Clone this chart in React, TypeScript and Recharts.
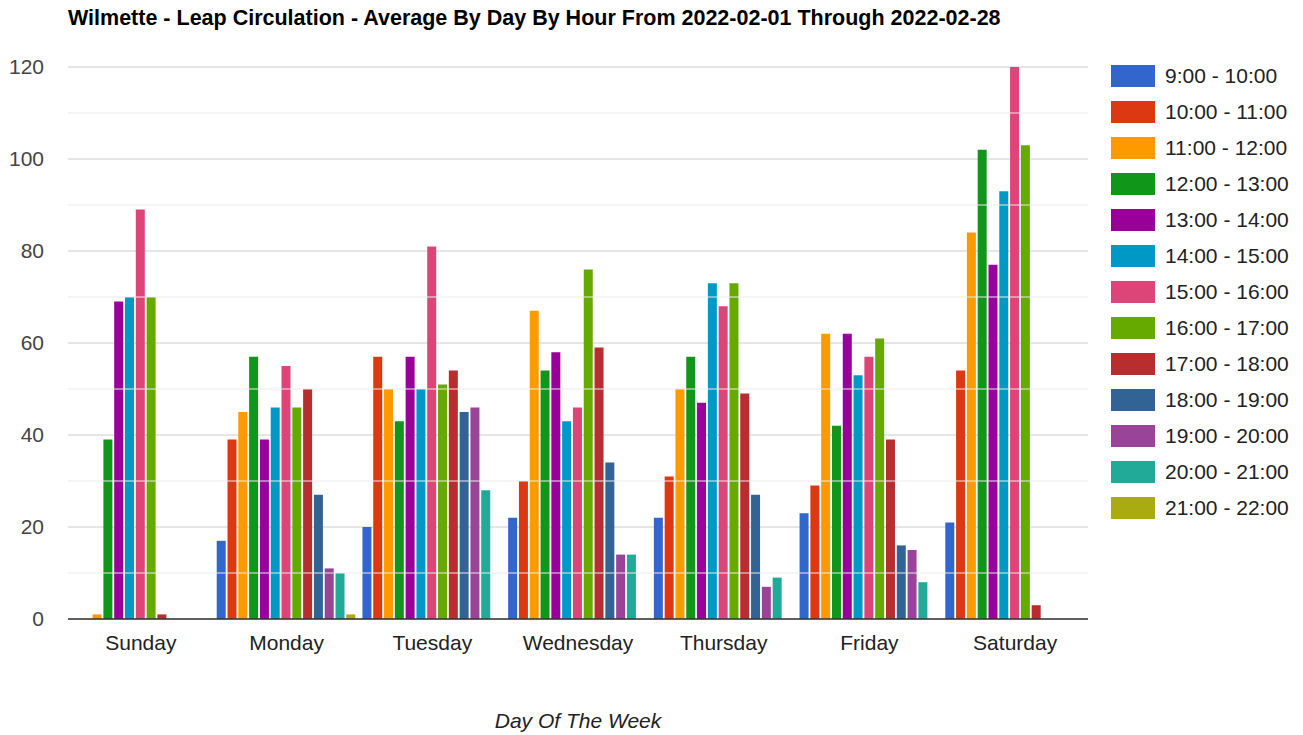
import React from 'react';
import { BarChart, Bar, XAxis, YAxis, CartesianGrid, ReferenceLine, Label } from 'recharts';

const days = ['Sunday', 'Monday', 'Tuesday', 'Wednesday', 'Thursday', 'Friday', 'Saturday'];

const hourRanges = [
  '9:00 - 10:00', '10:00 - 11:00', '11:00 - 12:00', '12:00 - 13:00', '13:00 - 14:00',
  '14:00 - 15:00', '15:00 - 16:00', '16:00 - 17:00', '17:00 - 18:00', '18:00 - 19:00',
  '19:00 - 20:00', '20:00 - 21:00', '21:00 - 22:00',
];

const hourColors = [
  '#3366cc', '#dc3912', '#ff9900', '#109618', '#990099', '#0099c6', '#dd4477',
  '#66aa00', '#b82e2e', '#316395', '#994499', '#22aa99', '#aaaa11',
];

// averages per hour slot, 9:00 through 21:00
const sunday = [0, 0, 1, 39, 69, 70, 89, 70, 1, 0, 0, 0, 0];
const monday = [17, 39, 45, 57, 39, 46, 55, 46, 50, 27, 11, 10, 1];
const tuesday = [20, 57, 50, 43, 57, 50, 81, 51, 54, 45, 46, 28, 0];
const wednesday = [22, 30, 67, 54, 58, 43, 46, 76, 59, 34, 14, 14, 0];
const thursday = [22, 31, 50, 57, 47, 73, 68, 73, 49, 27, 7, 9, 0];
const friday = [23, 29, 62, 42, 62, 53, 57, 61, 39, 16, 15, 8, 0];
const saturday = [21, 54, 84, 102, 77, 93, 120, 103, 3, 0, 0, 0, 0];

const dayValues = [sunday, monday, tuesday, wednesday, thursday, friday, saturday];

const yTicks = [0, 20, 40, 60, 80, 100, 120];
const minorTicks = [10, 30, 50, 70, 90, 110];

const data = days.map((day, d) => {
  const row: Record<string, string | number> = { day };
  hourRanges.forEach((_, i) => {
    row['h' + i] = dayValues[d][i];
  });
  return row;
});

const font = 'Arial, "Liberation Sans", sans-serif';

export default function App() {
  return (
    <div style={{ position: 'absolute', left: 0, top: 0, width: 1303, height: 735, background: '#fff', fontFamily: font }}>
      <div style={{ position: 'absolute', left: 68, top: 6, fontSize: 21.5, lineHeight: '24px', fontWeight: 'bold', color: '#000', whiteSpace: 'nowrap' }}>
        Wilmette - Leap Circulation - Average By Day By Hour From 2022-02-01 Through 2022-02-28
      </div>

      <BarChart
        width={1303}
        height={735}
        data={data}
        margin={{ top: 67, right: 215, bottom: 0, left: 0 }}
        barCategoryGap={3}
        barGap={1.8}
      >
        <CartesianGrid vertical={false} stroke="#cccccc" />
        {minorTicks.map((v) => (
          <ReferenceLine key={v} y={v} stroke="#ebebeb" />
        ))}
        <XAxis
          dataKey="day"
          height={116}
          tickLine={false}
          tickSize={0}
          tickMargin={16}
          axisLine={{ stroke: '#333', strokeWidth: 1.5 }}
          tick={{ fill: '#222', fontSize: 21 }}
        >
          <Label value="Day Of The Week" position="insideBottom" offset={7} fill="#222" fontSize={21} fontStyle="italic" />
        </XAxis>
        <YAxis
          width={68}
          domain={[0, 120]}
          ticks={yTicks}
          axisLine={false}
          tickLine={false}
          tickSize={0}
          tickMargin={24}
          tick={{ fill: '#444', fontSize: 21 }}
        />
        {hourRanges.map((h, i) => (
          <Bar key={h} dataKey={'h' + i} name={h} fill={hourColors[i]} isAnimationActive={false} />
        ))}
      </BarChart>

      {hourRanges.map((h, i) => (
        <div key={h} style={{ position: 'absolute', left: 1111, top: 65 + 36 * i, height: 22, display: 'flex', alignItems: 'center' }}>
          <div style={{ width: 44, height: 22, background: hourColors[i] }} />
          <span style={{ marginLeft: 10, fontSize: 21, color: '#222', whiteSpace: 'nowrap' }}>{h}</span>
        </div>
      ))}
    </div>
  );
}
